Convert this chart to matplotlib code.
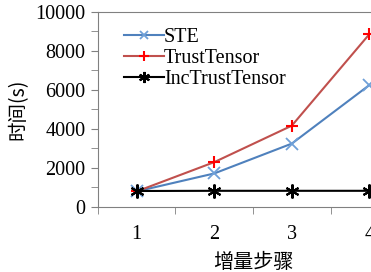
import matplotlib.pyplot as plt

steps = [1, 2, 3, 4]
ste = [800, 1720, 3250, 6250]
trust = [800, 2300, 4170, 8860]
inc = [820, 830, 830, 830]
labels = ['STE', 'TrustTensor', 'IncTrustTensor']

plt.rcParams['font.family'] = ['Liberation Serif', 'Noto Sans CJK SC']

fig = plt.figure(figsize=(3.71, 2.72), dpi=100)
ax = fig.add_axes([0.264, 0.239, 0.836, 0.717])

ax.plot(steps, ste, color='#4F81BD', lw=1.5, marker='x', ms=8, mew=1.3,
        mec='#6FA0D8', label=labels[0])
ax.plot(steps, trust, color='#C0504D', lw=1.5, marker='+', ms=9, mew=1.5,
        mec='#FF0000', label=labels[1])
ax.plot(steps, inc, color='black', lw=1.5, marker=(6, 2, 0), ms=10, mew=1.5,
        label=labels[2])

ax.set_xlim(0.5, 4.5)
ax.set_ylim(0, 10000)
ax.set_xticks(steps)
ax.set_xticks([0.5, 1.5, 2.5, 3.5, 4.5], minor=True)
ax.set_yticks(range(0, 10001, 2000))
ax.set_yticks(range(1000, 10000, 2000), minor=True)
ax.tick_params(axis='x', which='major', length=0, pad=13, labelsize=14.5)
ax.tick_params(axis='x', which='minor', length=5, color='#808080')
ax.tick_params(axis='y', which='both', length=5, color='#808080', labelsize=14.5, pad=4)

for s in ['left', 'bottom', 'top']:
    ax.spines[s].set_color('#808080')
ax.spines['right'].set_visible(False)

ax.set_ylabel('时间(s)', fontsize=14, family=['Noto Sans CJK SC'], labelpad=5)
ax.text(2.5, -2850, '增量步骤', fontsize=14.5, family=['Noto Sans CJK SC'],
        ha='center', va='center')

ax.legend(loc='upper left', bbox_to_anchor=(0.025, 1.01), frameon=False,
          fontsize=14.5, handlelength=2.0, handletextpad=0.0, labelspacing=0.1,
          borderaxespad=0.5, markerscale=0.8)

fig.savefig('out.png', dpi=100)
